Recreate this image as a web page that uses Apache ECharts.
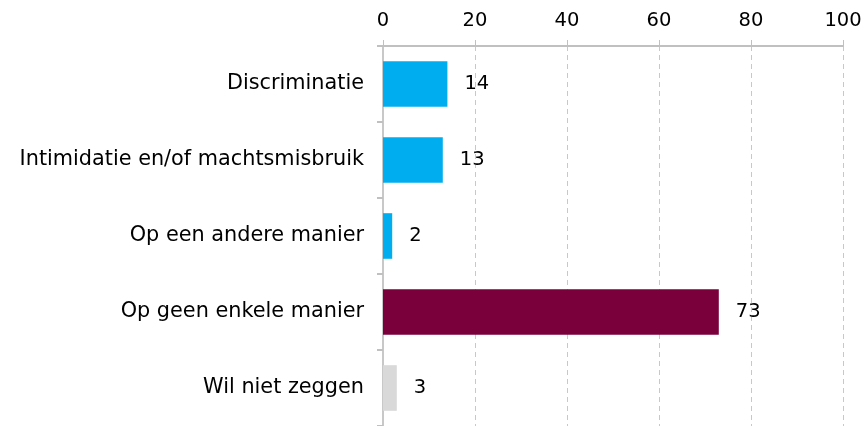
<!DOCTYPE html>
<html>
<head>
<meta charset="utf-8">
<script src="https://cdn.jsdelivr.net/npm/echarts@6/dist/echarts.min.js"></script>
<style>
  html, body { margin: 0; padding: 0; background: #fff; }
  #main { width: 868px; height: 426px; }
</style>
</head>
<body>
<div id="main"></div>
<script>
// categories top to bottom
var categories = ['Discriminatie', 'Intimidatie en/of machtsmisbruik', 'Op een andere manier', 'Op geen enkele manier', 'Wil niet zeggen'];
var values = [14, 13, 2, 73, 3];
var barColors = ['#00aeef', '#00aeef', '#00aeef', '#7a003c', '#d9d9d9'];
var xTicks = [0, 20, 40, 60, 80, 100];

var chart = echarts.init(document.getElementById('main'));

var option = {
    animation: false,
    textStyle: { fontFamily: 'DejaVu Sans' },
    grid: {
        left: 383,
        right: 25,
        top: 46,
        bottom: 0,
        containLabel: false
    },
    xAxis: {
        type: 'value',
        position: 'top',
        min: xTicks[0],
        max: xTicks[xTicks.length - 1],
        interval: 20,
        axisLine: { show: true, lineStyle: { color: '#c0c0c0', width: 2 } },
        axisTick: { show: true, length: 6, lineStyle: { color: '#c0c0c0', width: 1 } },
        axisLabel: { color: '#000', fontSize: 19.5, margin: 15 },
        splitLine: { show: true, lineStyle: { color: '#c8c8c8', type: [5, 4], width: 1 } }
    },
    yAxis: {
        type: 'category',
        inverse: true,
        data: categories,
        axisLine: { show: true, lineStyle: { color: '#c8c8c8', width: 2 } },
        axisTick: { show: true, length: 6, lineStyle: { color: '#c0c0c0', width: 2 } },
        axisLabel: { color: '#000', fontSize: 20.8, margin: 19 },
        splitLine: { show: false }
    },
    series: [{
        type: 'bar',
        barWidth: '60%',
        data: values.map(function (v, i) {
            return { value: v, itemStyle: { color: barColors[i] } };
        }),
        label: {
            show: true,
            position: 'right',
            distance: 17,
            color: '#000',
            fontSize: 19.5
        }
    }]
};

chart.setOption(option);
</script>
</body>
</html>
